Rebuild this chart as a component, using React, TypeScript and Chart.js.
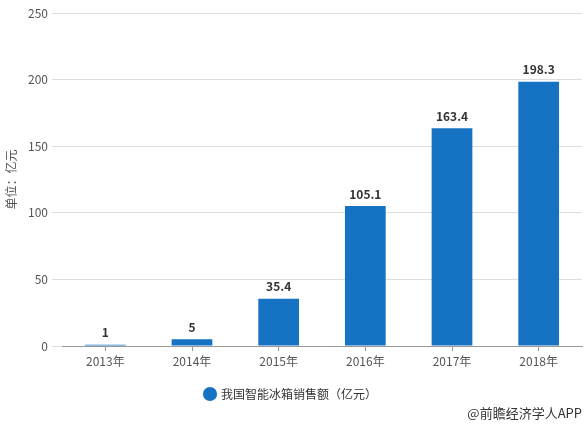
import React, { useEffect, useRef } from "react";
import { Chart, registerables } from "chart.js";

Chart.register(...registerables);

const categories = ["2013年", "2014年", "2015年", "2016年", "2017年", "2018年"];
const salesValues = [1, 5, 35.4, 105.1, 163.4, 198.3];
const seriesName = "我国智能冰箱销售额（亿元）";
const yAxisTitle = "单位：亿元";
const sourceText = "@前瞻经济学人APP";

const FONT = "'Noto Sans CJK SC', 'Noto Sans', sans-serif";

const dataLabelPlugin = {
  id: "dataLabels",
  afterDatasetsDraw(chart: any) {
    const ctx = chart.ctx;
    const meta = chart.getDatasetMeta(0);
    ctx.save();
    ctx.font = `bold 12px ${FONT}`;
    ctx.fillStyle = "#333333";
    ctx.textAlign = "center";
    ctx.textBaseline = "bottom";
    meta.data.forEach((bar: any, i: number) => {
      const v = chart.data.datasets[0].data[i];
      ctx.fillText(String(v), bar.x, bar.y - 6);
    });
    ctx.restore();
  },
};

const sourcePlugin = {
  id: "sourceText",
  afterDraw(chart: any) {
    const ctx = chart.ctx;
    ctx.save();
    ctx.font = `13px ${FONT}`;
    ctx.fillStyle = "#333333";
    ctx.textAlign = "right";
    ctx.textBaseline = "middle";
    ctx.fillText(sourceText, chart.width - 5, 413);
    ctx.restore();
  },
};

export default function App() {
  const ref = useRef<HTMLCanvasElement>(null);
  useEffect(() => {
    if (!ref.current) return;
    const chart = new Chart(ref.current, {
      type: "bar",
      data: {
        labels: categories,
        datasets: [
          {
            label: seriesName,
            data: salesValues,
            backgroundColor: "#1673c3",
            borderWidth: 0,
            barPercentage: 0.47,
            categoryPercentage: 1,
          },
        ],
      },
      options: {
        animation: false,
        responsive: false,
        maintainAspectRatio: false,
        layout: { padding: { top: 13, right: 5, bottom: 18, left: 0 } },
        plugins: {
          tooltip: { enabled: false },
          legend: {
            position: "bottom",
            labels: {
              usePointStyle: true,
              pointStyle: "circle",
              boxWidth: 10,
              boxHeight: 10,
              color: "#333333",
              font: { family: FONT, size: 12 },
              padding: 6,
            },
          },
        },
        scales: {
          x: {
            grid: {
              display: true,
              drawOnChartArea: false,
              offset: false,
              tickLength: 5,
              color: "#999999",
            },
            border: { display: true, color: "#999999" },
            ticks: { color: "#555555", font: { family: FONT, size: 12 }, padding: 3 },
            afterFit(scale: any) {
              scale.height = 36;
            },
          },
          y: {
            min: 0,
            max: 250,
            ticks: { stepSize: 50, color: "#555555", font: { family: FONT, size: 12 }, padding: 4 },
            grid: { color: "#dddddd", tickLength: 10 },
            border: { display: false },
            title: {
              display: true,
              text: yAxisTitle,
              color: "#555555",
              font: { family: FONT, size: 12 },
              padding: { top: 4, bottom: 0 },
            },
            afterFit(scale: any) {
              scale.width = 62;
            },
          },
        },
      },
      plugins: [dataLabelPlugin, sourcePlugin],
    });
    return () => chart.destroy();
  }, []);
  return (
    <div style={{ position: "fixed", left: 0, top: 0, width: 587, height: 428, background: "#fff" }}>
      <canvas ref={ref} width={587} height={428} style={{ width: 587, height: 428 }} />
    </div>
  );
}
